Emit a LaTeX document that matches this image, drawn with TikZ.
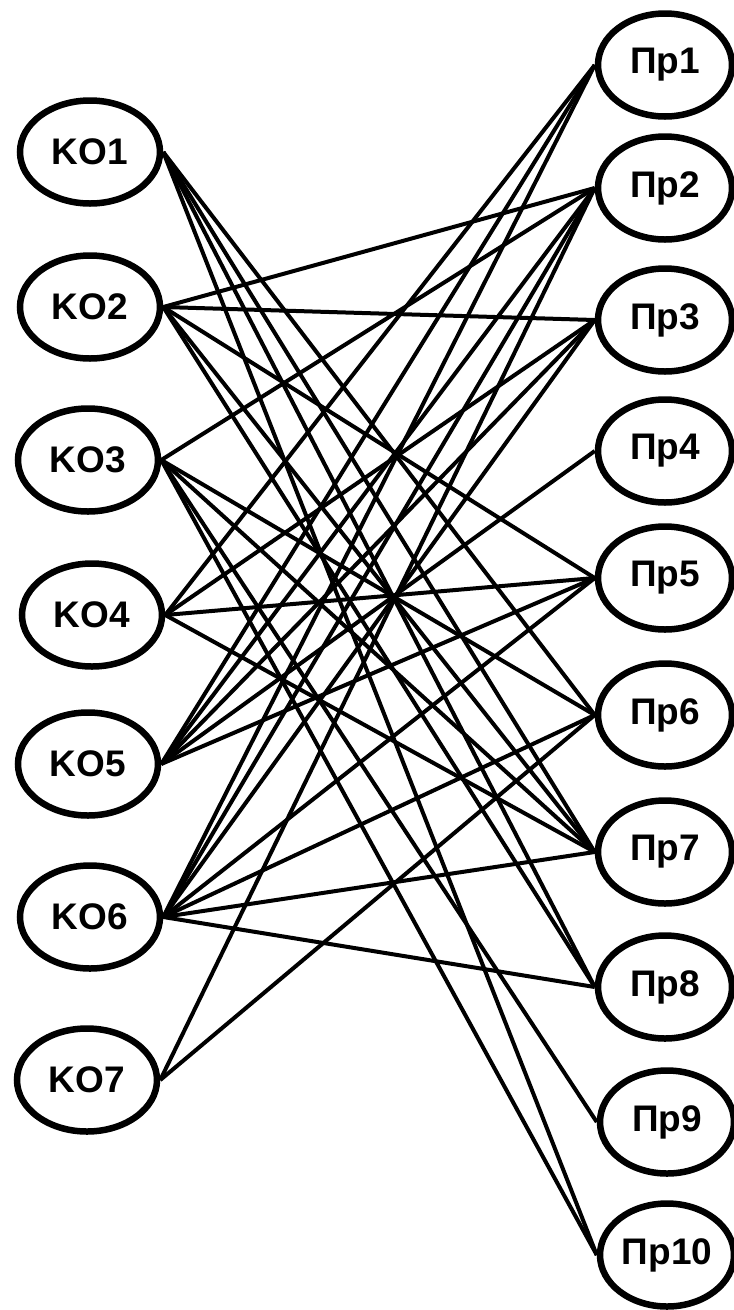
\documentclass[tikz,border=0pt]{standalone}
\usepackage{fontspec}
\setmainfont{Liberation Sans}
\usetikzlibrary{shapes.geometric}
\begin{document}
\begin{tikzpicture}[x=1pt,y=-1pt,
  obj/.style={ellipse, draw, line width=6.5pt, minimum width=140pt, minimum height=103pt,
    inner sep=0pt, font=\fontsize{37}{37}\selectfont\bfseries},
  link/.style={line width=4pt}]
  \useasboundingbox[fill=white] (0,0) rectangle (734,1310);
  % left column
  \node[obj] (ko1) at (90,152)  {KO1};
  \node[obj] (ko2) at (90,307)  {KO2};
  \node[obj] (ko3) at (88,460)  {KO3};
  \node[obj] (ko4) at (92,615)  {KO4};
  \node[obj] (ko5) at (88,764)  {KO5};
  \node[obj] (ko6) at (90,917)  {KO6};
  \node[obj] (ko7) at (87,1080) {KO7};
  % right column
  \node[obj, minimum width=134pt] (p1)  at (665,65)   {Пр1};
  \node[obj, minimum width=134pt] (p2)  at (665,188)  {Пр2};
  \node[obj, minimum width=134pt] (p3)  at (665,320)  {Пр3};
  \node[obj, minimum width=134pt] (p4)  at (665,451)  {Пр4};
  \node[obj, minimum width=134pt] (p5)  at (665,578)  {Пр5};
  \node[obj, minimum width=134pt] (p6)  at (665,715)  {Пр6};
  \node[obj, minimum width=134pt] (p7)  at (665,852)  {Пр7};
  \node[obj, minimum width=134pt] (p8)  at (665,987)  {Пр8};
  \node[obj, minimum width=134pt] (p9)  at (667,1122) {Пр9};
  \node[obj, minimum width=134pt] (p10) at (667,1255) {Пр10};
  % links
  \foreach \a/\b in {ko1/p6, ko1/p7, ko1/p8, ko1/p10,
                     ko2/p2, ko2/p3, ko2/p5, ko2/p7, ko2/p8,
                     ko3/p2, ko3/p6, ko3/p7, ko3/p9, ko3/p10,
                     ko4/p1, ko4/p3, ko4/p5, ko4/p7,
                     ko5/p1, ko5/p2, ko5/p3, ko5/p4, ko5/p5,
                     ko6/p1, ko6/p2, ko6/p3, ko6/p5, ko6/p6, ko6/p7, ko6/p8,
                     ko7/p2, ko7/p6}
    \draw[link] (\a.east) -- (\b.west);
\end{tikzpicture}
\end{document}
